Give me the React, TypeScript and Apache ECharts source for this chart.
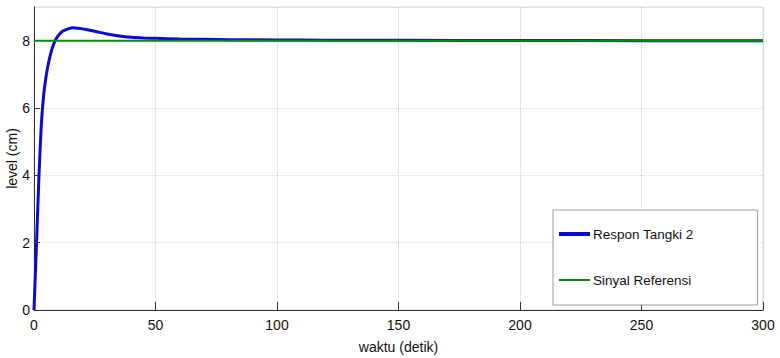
import React, { useEffect, useRef } from "react";
import * as echarts from "echarts";

const timeSec = [0, 1, 2, 3, 4, 5, 6, 7, 8, 9, 10, 11, 12, 14, 16, 18, 20, 25, 30, 35, 40, 45, 50, 60, 70, 80, 100, 120, 150, 200, 250, 300];
const responLevel = [0, 1.9, 3.9, 5.5, 6.4, 6.95, 7.35, 7.65, 7.88, 8.04, 8.15, 8.23, 8.29, 8.35, 8.38, 8.37, 8.35, 8.28, 8.2, 8.14, 8.1, 8.08, 8.07, 8.05, 8.04, 8.03, 8.02, 8.015, 8.01, 8.005, 8.0, 8.0];
const refTime = [0, 300];
const refLevel = [8, 8];
const seriesNames = ["Respon Tangki 2", "Sinyal Referensi"];
const xTitle = "waktu (detik)";
const yTitle = "level (cm)";

const FONT = "'Liberation Sans', Arial, sans-serif";

export default function App() {
  const ref = useRef<HTMLDivElement>(null);
  useEffect(() => {
    if (!ref.current) return;
    const chart = echarts.init(ref.current, undefined, { renderer: "svg" });
    chart.setOption({
      animation: false,
      backgroundColor: "#ffffff",
      textStyle: { fontFamily: FONT },
      grid: {
        left: 34,
        right: 17,
        top: 7,
        bottom: 48,
        containLabel: false,
        outerBoundsMode: "none",
        show: true,
        borderColor: "#d8d8d8",
        borderWidth: 1,
        backgroundColor: "transparent",
      },
      legend: {
        orient: "vertical",
        left: 553,
        top: 210,
        padding: [17, 64, 18, 6],
        itemGap: 32,
        itemWidth: 31,
        itemHeight: 4,
        backgroundColor: "#ffffff",
        borderColor: "#9a9a9a",
        borderWidth: 1,
        textStyle: { fontFamily: FONT, fontSize: 13.5, color: "#111", padding: [0, 0, 0, -2] },
        data: [
          { name: seriesNames[0], icon: "rect", itemStyle: { color: "#0a0ad8" } },
          { name: seriesNames[1], icon: "path://M0,1 L31,1 L31,3 L0,3 Z", itemStyle: { color: "#0a8a0a" } },
        ],
      },
      xAxis: {
        type: "value",
        min: 0,
        max: 300,
        interval: 50,
        name: xTitle,
        nameLocation: "middle",
        nameGap: 30,
        nameMoveOverlap: false,
        nameTextStyle: { fontFamily: FONT, fontSize: 14, color: "#111" },
        axisLine: { show: true, lineStyle: { color: "#333", width: 1 } },
        axisTick: { show: true, inside: true, length: 8, lineStyle: { color: "#333" } },
        axisLabel: { fontFamily: FONT, fontSize: 14, color: "#111", margin: 8 },
        splitLine: { show: true, lineStyle: { color: "#cfcfcf", type: "dotted", width: 1 } },
      },
      yAxis: {
        type: "value",
        min: 0,
        max: 9,
        interval: 2,
        name: yTitle,
        nameLocation: "middle",
        nameGap: 15,
        nameMoveOverlap: false,
        nameTextStyle: { fontFamily: FONT, fontSize: 14, color: "#111" },
        axisLine: { show: true, lineStyle: { color: "#333", width: 1 } },
        axisTick: { show: true, inside: true, length: 6, lineStyle: { color: "#333" } },
        axisLabel: { fontFamily: FONT, fontSize: 14, color: "#111", margin: 4, showMaxLabel: false },
        splitLine: { show: true, lineStyle: { color: "#dcdcdc", type: "dotted", width: 1 } },
      },
      series: [
        {
          name: seriesNames[0],
          type: "line",
          data: timeSec.map((t, i) => [t, responLevel[i]]),
          smooth: 0.2,
          showSymbol: false,
          lineStyle: { color: "#0a0ad8", width: 3 },
          itemStyle: { color: "#0a0ad8" },
        },
        {
          name: seriesNames[1],
          type: "line",
          data: refTime.map((t, i) => [t, refLevel[i]]),
          showSymbol: false,
          lineStyle: { color: "#0a8a0a", width: 2 },
          itemStyle: { color: "#0a8a0a" },
        },
      ],
    });
    return () => chart.dispose();
  }, []);
  return <div ref={ref} style={{ width: 780, height: 358, position: "fixed", left: 0, top: 0 }} />;
}
